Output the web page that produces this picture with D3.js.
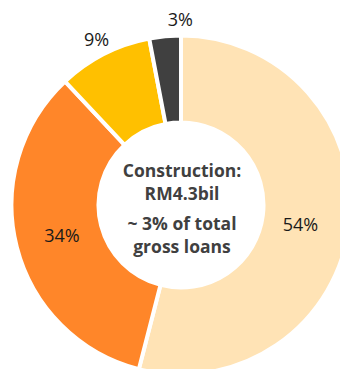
<!DOCTYPE html>
<html>
<head>
<meta charset="utf-8">
<script src="https://cdn.jsdelivr.net/npm/d3@7"></script>
<style>
  html, body { margin: 0; padding: 0; background: #ffffff; overflow: hidden; }
  svg { display: block; }
</style>
</head>
<body>
<div id="chart"></div>
<script>
// Construction loan breakdown (share of RM4.3bil)
const segments = ["Segment A", "Segment B", "Segment C", "Segment D"];
const shares = [54, 34, 9, 3];
const shareLabels = ["54%", "34%", "9%", "3%"];
const centerLines = ["Construction:", "RM4.3bil", "~ 3% of total", "gross loans"];

const colors = ["#FFE3B5", "#FF8629", "#FFC000", "#404040"];

const width = 340, height = 369;
const cx = 181, cy = 205;
const outerR = 169.5, innerR = 82.5;

// label placement: inside labels sit in the ring, small slices get outside labels
const labelStyle = [
  { r: 121, shiftDeg: 2 },
  { r: 123, shiftDeg: 0 },
  { r: 186, shiftDeg: 0 },
  { r: 185, shiftDeg: 5.2 }
];

const svg = d3.select("#chart").append("svg")
  .attr("width", width)
  .attr("height", height);

const g = svg.append("g").attr("transform", `translate(${cx},${cy})`);

const pie = d3.pie().sort(null).value(d => d.value);
const arcs = pie(segments.map((s, i) => ({ name: s, value: shares[i], label: shareLabels[i] })));

const arc = d3.arc().innerRadius(innerR).outerRadius(outerR);

g.selectAll("path.slice")
  .data(arcs)
  .join("path")
  .attr("class", "slice")
  .attr("d", arc)
  .attr("fill", (d, i) => colors[i])
  .attr("stroke", "#ffffff")
  .attr("stroke-width", 4)
  .attr("stroke-linejoin", "miter");

g.selectAll("text.pct")
  .data(arcs)
  .join("text")
  .attr("class", "pct")
  .attr("x", (d, i) => {
    const a = (d.startAngle + d.endAngle) / 2 + labelStyle[i].shiftDeg * Math.PI / 180;
    return labelStyle[i].r * Math.sin(a);
  })
  .attr("y", (d, i) => {
    const a = (d.startAngle + d.endAngle) / 2 + labelStyle[i].shiftDeg * Math.PI / 180;
    return -labelStyle[i].r * Math.cos(a);
  })
  .attr("dy", "0.36em")
  .attr("text-anchor", "middle")
  .attr("font-family", "'Open Sans', sans-serif")
  .attr("font-size", 18)
  .attr("fill", "#1a1a1a")
  .text(d => d.data.label);

// centre caption
const baselines = [-28.5, -5, 25, 47.5];
g.selectAll("text.center")
  .data(centerLines)
  .join("text")
  .attr("class", "center")
  .attr("x", 1)
  .attr("y", (d, i) => baselines[i])
  .attr("text-anchor", "middle")
  .attr("font-family", "'Open Sans', sans-serif")
  .attr("font-weight", "bold")
  .attr("font-size", 17.5)
  .attr("fill", "#404040")
  .text(d => d);
</script>
</body>
</html>
